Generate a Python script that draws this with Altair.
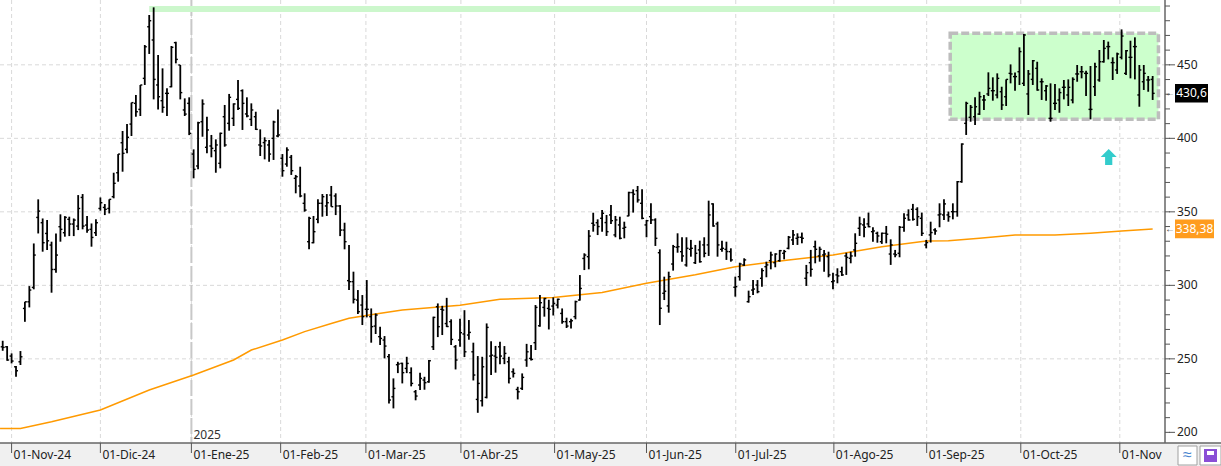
import altair as alt
import pandas as pd

# ---------------- data ----------------
first_bar = -2  # bar index of the first bar (two sessions before 01-Nov-24)

opens = [258.2, 258.2, 251.9, 244.6, 248.0, 284.3, 288.8, 298.6, 346.2, 342.6,
         335.3, 327.4, 310.8, 339.9, 335.8, 344.9, 341.7, 340.3, 359.8, 341.0,
         338.1, 335.8, 352.3, 353.0, 352.3, 360.3, 376.6, 397.0, 392.5, 409.7,
         423.8, 419.7, 440.8, 475.9, 466.9, 436.3, 425.6, 430.6, 435.1, 465.1,
         449.9, 419.3, 423.8, 389.3, 381.2, 411.3, 393.9, 394.8, 391.6, 383.0,
         414.7, 410.2, 413.6, 426.5, 432.4, 416.6, 412.9, 414.7, 395.5, 397.1,
         395.5, 400.0, 401.6, 386.4, 382.5, 387.1, 372.8, 367.6, 355.8, 329.7,
         329.0, 344.9, 355.8, 354.0, 361.4, 360.8, 354.0, 337.6, 303.2, 302.5,
         290.0, 286.6, 283.7, 278.7, 272.3, 265.1, 262.8, 251.5, 224.2, 246.0,
         246.9, 243.5, 240.6, 227.6, 232.2, 235.6, 234.4, 258.2, 285.5, 283.7,
         274.0, 275.3, 258.2, 262.8, 266.9, 266.2, 254.8, 222.4, 221.5, 223.8,
         251.9, 251.9, 258.2, 250.3, 248.0, 241.2, 229.2, 229.9, 249.2, 250.3,
         261.0, 272.5, 285.0, 284.3, 285.9, 286.6, 280.9, 275.3, 275.3, 278.7,
         290.0, 318.3, 319.5, 342.2, 342.6, 345.6, 342.7, 347.9, 334.3, 341.1,
         338.8, 347.2, 363.1, 364.4, 355.8, 341.1, 346.7, 344.5, 322.2, 294.6,
         286.0, 314.5, 325.9, 322.9, 313.9, 324.5, 315.4, 324.1, 327.5, 327.5,
         355.4, 341.8, 324.5, 324.5, 322.9, 298.7, 305.9, 313.9, 288.9, 296.8,
         300.2, 304.8, 312.7, 316.8, 315.4, 316.8, 321.8, 325.2, 330.9, 332.0,
         332.7, 304.8, 315.4, 326.3, 320.0, 320.7, 319.5, 302.5, 307.1, 309.3,
         320.0, 318.4, 324.1, 338.8, 341.1, 341.8, 336.5, 335.4, 329.7, 335.4,
         321.3, 321.3, 321.8, 339.5, 347.9, 351.7, 351.7, 345.6, 327.5, 334.3,
         337.7, 347.9, 347.9, 347.9, 350.1, 350.1, 370.5, 410.2, 414.3, 414.7,
         416.5, 426.1, 430.2, 432.4, 429.5, 431.7, 428.3, 444.2, 442.0, 445.3,
         437.4, 430.2, 440.1, 447.6, 438.5, 432.4, 413.6, 423.8, 426.1, 434.7,
         429.5, 426.1, 443.8, 445.3, 444.2, 419.7, 435.1, 439.7, 452.1, 462.4,
         451.5, 446.5, 455.1, 444.2, 455.1, 462.4, 429.5, 438.5, 439.7, 440.1]

highs = [262.3, 258.7, 253.7, 245.1, 255.3, 288.8, 299.5, 328.5, 358.5, 345.5,
         344.4, 329.7, 335.3, 348.3, 347.1, 346.7, 345.5, 361.4, 362.1, 347.1,
         342.1, 344.9, 359.8, 355.3, 358.5, 376.6, 389.3, 405.0, 409.7, 424.3,
         429.5, 436.3, 463.5, 483.9, 489.1, 456.7, 447.6, 434.0, 462.8, 465.7,
         449.9, 427.2, 427.9, 392.5, 411.3, 426.5, 414.7, 402.3, 399.3, 403.9,
         422.7, 430.2, 423.8, 439.7, 433.3, 427.9, 423.8, 418.1, 406.1, 400.7,
         398.9, 412.0, 419.7, 389.3, 393.9, 388.7, 375.1, 380.7, 362.6, 346.7,
         347.2, 358.5, 362.1, 362.1, 367.6, 362.6, 354.6, 342.6, 327.4, 309.3,
         296.8, 293.4, 303.6, 284.3, 280.9, 271.9, 265.5, 253.3, 236.7, 248.0,
         247.4, 251.4, 244.2, 228.8, 240.6, 237.8, 249.2, 278.7, 287.7, 286.1,
         291.5, 276.9, 259.4, 277.2, 283.1, 276.4, 261.0, 251.9, 251.4, 274.1,
         262.0, 258.8, 261.7, 258.7, 251.4, 243.5, 231.0, 240.1, 260.2, 259.4,
         286.6, 293.5, 291.5, 290.2, 291.8, 291.0, 284.3, 278.0, 277.2, 289.6,
         307.0, 321.8, 337.6, 349.4, 344.9, 351.3, 347.9, 354.7, 347.2, 346.7,
         343.3, 363.7, 365.3, 367.6, 365.3, 344.5, 355.8, 345.6, 324.5, 305.9,
         309.3, 327.5, 335.4, 332.7, 332.7, 330.9, 327.5, 330.4, 332.7, 357.6,
         355.8, 343.3, 330.4, 329.7, 325.2, 305.9, 315.4, 318.4, 296.4, 303.6,
         303.6, 311.6, 316.1, 322.9, 321.8, 324.1, 324.1, 333.6, 337.7, 335.4,
         335.9, 313.9, 324.1, 330.4, 326.3, 324.1, 322.9, 308.6, 311.6, 312.7,
         322.2, 322.9, 335.4, 346.7, 345.6, 349.5, 339.5, 336.5, 335.9, 340.4,
         331.3, 324.1, 340.4, 349.0, 351.7, 355.4, 353.1, 349.5, 330.9, 343.3,
         338.8, 355.8, 358.5, 350.2, 355.8, 371.0, 396.6, 424.9, 422.7, 427.9,
         431.7, 429.5, 444.9, 441.5, 444.2, 435.1, 440.1, 450.3, 444.7, 461.9,
         471.0, 446.5, 453.3, 452.1, 440.8, 436.3, 437.4, 437.0, 434.0, 439.7,
         440.1, 441.5, 449.9, 449.2, 446.0, 449.2, 451.5, 460.1, 466.9, 465.8,
         455.1, 458.3, 474.1, 460.1, 466.4, 468.7, 449.9, 449.9, 442.4, 442.4]

lows = [255.5, 248.7, 246.9, 237.8, 245.8, 275.2, 285.0, 297.3, 335.3, 322.9,
        324.0, 295.0, 308.6, 329.7, 333.1, 333.5, 333.5, 337.6, 338.1, 335.8,
        326.3, 333.5, 350.8, 347.8, 348.9, 359.2, 370.5, 377.3, 389.8, 401.6,
        414.7, 415.2, 436.3, 457.4, 426.5, 419.7, 417.4, 415.2, 434.7, 451.0,
        426.5, 415.2, 402.2, 372.8, 378.9, 401.1, 389.8, 387.1, 376.6, 379.6,
        394.3, 405.2, 408.4, 419.3, 405.7, 414.3, 408.4, 405.7, 388.0, 385.7,
        384.1, 385.3, 400.7, 373.9, 380.7, 375.1, 362.6, 359.9, 350.1, 324.5,
        328.6, 342.2, 346.7, 347.2, 353.5, 347.8, 333.5, 324.5, 296.8, 287.7,
        280.5, 273.0, 278.2, 261.0, 266.9, 259.4, 250.3, 219.7, 216.3, 240.3,
        233.3, 240.3, 231.3, 221.8, 228.8, 229.0, 233.8, 256.0, 264.8, 266.2,
        271.6, 259.4, 242.8, 258.2, 251.2, 263.0, 235.3, 213.3, 217.6, 223.1,
        239.0, 240.6, 246.4, 246.4, 233.3, 237.3, 222.4, 228.8, 244.6, 248.9,
        256.0, 271.9, 278.7, 270.0, 279.5, 284.3, 273.9, 271.0, 270.7, 276.9,
        289.6, 310.4, 310.9, 336.5, 334.2, 336.5, 333.6, 341.8, 332.7, 331.3,
        332.0, 347.0, 349.5, 356.3, 344.9, 332.7, 341.8, 326.8, 273.0, 290.0,
        281.4, 310.0, 322.2, 316.1, 312.7, 319.5, 314.5, 315.4, 319.1, 320.0,
        339.9, 319.5, 322.9, 317.3, 316.1, 292.3, 303.2, 313.2, 288.2, 293.4,
        294.6, 299.1, 305.5, 310.9, 312.3, 316.1, 317.7, 324.5, 327.5, 327.5,
        328.6, 299.6, 305.9, 315.0, 316.1, 309.3, 305.5, 297.3, 301.4, 306.4,
        307.1, 315.0, 319.5, 333.6, 332.7, 339.5, 329.7, 329.0, 328.2, 328.6,
        313.9, 319.1, 319.1, 336.5, 344.0, 344.0, 340.4, 333.6, 325.2, 329.1,
        334.5, 339.5, 344.5, 343.3, 344.9, 346.7, 369.8, 402.3, 411.3, 409.1,
        415.9, 419.3, 428.8, 425.6, 427.2, 419.3, 422.0, 437.4, 432.4, 436.3,
        435.6, 415.9, 436.3, 432.4, 426.1, 425.6, 411.3, 419.3, 417.4, 426.5,
        422.0, 423.8, 438.5, 440.8, 428.8, 412.9, 428.8, 438.5, 451.5, 453.7,
        439.7, 443.8, 453.7, 443.1, 440.8, 440.1, 421.5, 432.9, 431.7, 426.1]

closes = [257.8, 249.2, 248.5, 241.9, 251.4, 288.8, 296.8, 320.6, 350.5, 329.0,
          330.3, 310.8, 320.6, 338.1, 346.2, 341.7, 344.4, 352.3, 340.3, 337.6,
          332.6, 342.6, 356.2, 351.7, 358.5, 369.4, 389.3, 389.8, 400.7, 424.3,
          418.1, 436.3, 462.3, 480.0, 440.1, 428.3, 421.1, 430.6, 461.9, 453.7,
          431.1, 416.5, 403.4, 378.9, 410.6, 423.4, 405.7, 393.2, 395.5, 403.4,
          395.5, 427.9, 423.4, 420.4, 423.8, 415.2, 419.3, 406.1, 394.8, 398.4,
          389.3, 411.1, 402.3, 378.0, 392.1, 378.0, 373.9, 360.8, 351.2, 345.6,
          336.5, 355.8, 360.3, 356.2, 353.5, 354.0, 337.6, 329.7, 302.5, 290.5,
          282.1, 278.7, 283.7, 271.9, 279.8, 263.9, 258.7, 222.0, 229.9, 246.5,
          240.6, 246.9, 233.3, 224.7, 236.7, 233.8, 248.7, 278.2, 271.9, 283.2,
          272.0, 263.2, 249.2, 267.8, 254.8, 268.0, 239.0, 233.3, 244.6, 271.4,
          252.5, 251.0, 251.9, 253.7, 236.7, 240.1, 227.6, 237.4, 254.8, 249.6,
          285.0, 288.2, 291.0, 283.7, 287.7, 290.5, 275.3, 272.3, 275.9, 288.9,
          297.9, 320.6, 333.5, 341.0, 340.0, 349.0, 336.5, 344.0, 344.5, 332.0,
          339.5, 363.1, 362.0, 358.1, 345.6, 344.0, 344.5, 332.0, 284.4, 296.0,
          305.9, 326.3, 326.3, 320.0, 325.2, 325.2, 321.8, 316.1, 321.8, 347.9,
          340.4, 327.5, 325.2, 323.0, 317.3, 299.1, 314.5, 317.3, 292.3, 297.5,
          295.7, 310.0, 313.9, 320.7, 321.3, 323.6, 323.0, 332.7, 334.3, 332.7,
          332.0, 308.6, 310.9, 324.5, 324.5, 321.3, 307.1, 303.0, 306.4, 307.1,
          319.0, 320.0, 328.6, 341.8, 339.5, 339.9, 337.0, 333.6, 335.4, 334.8,
          327.5, 320.8, 339.5, 345.6, 344.5, 344.9, 346.7, 335.4, 329.1, 335.9,
          337.0, 348.5, 355.4, 346.7, 350.1, 370.5, 396.1, 423.8, 421.1, 421.5,
          428.3, 426.1, 434.0, 432.4, 440.8, 422.7, 440.1, 443.8, 442.0, 459.0,
          470.3, 443.8, 452.8, 432.9, 438.5, 435.6, 413.6, 423.8, 431.1, 434.7,
          434.7, 440.1, 443.8, 445.3, 444.2, 419.7, 448.7, 452.1, 461.2, 462.4,
          451.5, 457.4, 469.6, 459.6, 455.1, 462.4, 446.5, 444.2, 439.7, 430.6]

# orange moving-average line, read at a number of bar positions
ma_bar = [-2.6, 2, 9, 20, 31, 41, 50, 54, 61, 66, 72, 76, 82, 88, 101, 110, 122,
          133, 143, 154, 163, 175, 185, 196, 206, 211, 218, 226, 235, 243, 250, 257]
ma_value = [202.7, 202.7, 207.2, 215.2, 228.8, 239.0, 249.2, 256.0, 262.8, 268.5,
            274.1, 277.6, 280.5, 283.2, 286.5, 290.5, 291.8, 295.2, 301.4, 307.2,
            312.7, 317.2, 320.6, 326.3, 330.1, 330.3, 332.0, 334.2, 334.2, 335.4,
            336.9, 338.38]

# month ticks (bar position of the first session of each month)
month_bar = [0, 20, 40.5, 60.6, 79.8, 101.2, 122.3, 143.0, 163.1, 185.2, 206.1, 227.3, 249.6]
month_label = ["01-Nov-24", "01-Dic-24", "01-Ene-25", "01-Feb-25", "01-Mar-25",
               "01-Abr-25", "01-May-25", "01-Jun-25", "01-Jul-25", "01-Ago-25",
               "01-Sep-25", "01-Oct-25", "01-Nov"]
year_bar = 40.5
year_label = "2025"

grid_prices = [250, 300, 350, 400, 450]
axis_prices = [200, 250, 300, 350, 400, 450]
minor_prices = list(range(200, 491, 10))

# annotations
band_bar = [31.0, 258.7]
band_price = [490.0, 485.9]
box_bar = [211.4, 258.3]
box_price = [471.4, 412.9]
arrow_bar = 247.1
arrow_price = 387.3
last_price = 430.6
last_price_text = "430,6"
ma_last = 338.38
ma_last_text = "338,38"

# ---------------- build ----------------
W, H = 1165, 443
FONT = "Segoe UI, Noto Sans, sans-serif"
xs = alt.Scale(domain=[-2.608, 259.78], nice=False, zero=False)
ys = alt.Scale(domain=[192.76, 494.1], nice=False, zero=False)

n = len(opens)
bars = pd.DataFrame({
    "i": [first_bar + k for k in range(n)],
    "o": opens, "h": highs, "l": lows, "c": closes,
})
ma = pd.DataFrame({"i": ma_bar, "v": ma_value})
months = pd.DataFrame({"i": month_bar, "t": month_label})
grid = pd.DataFrame({"p": grid_prices})
axp = pd.DataFrame({"p": axis_prices})
minor = pd.DataFrame({"p": minor_prices})
one = pd.DataFrame({"k": [0]})

X = lambda f: alt.X(f, type="quantitative", scale=xs, axis=None)
Y = lambda f: alt.Y(f, type="quantitative", scale=ys, axis=None)

hgrid = alt.Chart(grid).mark_rule(color="#d9d9d9", strokeDash=[4, 3], strokeWidth=1).encode(
    y=Y("p"), x=alt.value(0), x2=alt.value(W))
vgrid = alt.Chart(months).mark_rule(color="#d9d9d9", strokeDash=[4, 3], strokeWidth=1).encode(
    x=X("i"), y=alt.value(0), y2=alt.value(H))
yearline = alt.Chart(pd.DataFrame({"i": [year_bar], "t": [year_label]})).mark_rule(
    color="#c8c8c8", strokeDash=[16, 3], strokeWidth=2).encode(
    x=X("i"), y=alt.value(0), y2=alt.value(H))
yeartext = alt.Chart(pd.DataFrame({"i": [year_bar], "t": [year_label]})).mark_text(
    align="left", baseline="middle", dx=2, font=FONT, fontSize=12, color="#333333").encode(
    x=X("i"), y=alt.value(435), text="t:N")

band = alt.Chart(pd.DataFrame({"a": [band_bar[0]], "b": [band_bar[1]],
                               "p": [band_price[0]], "q": [band_price[1]]})).mark_rect(
    color="#ccf7cc").encode(x=X("a"), x2="b", y=Y("p"), y2="q")
box = alt.Chart(pd.DataFrame({"a": [box_bar[0]], "b": [box_bar[1]],
                              "p": [box_price[0]], "q": [box_price[1]]})).mark_rect(
    fill="#ccffcc", stroke="#bdbdbd", strokeWidth=3.5, strokeDash=[8, 3]).encode(
    x=X("a"), x2="b", y=Y("p"), y2="q")

maline = alt.Chart(ma).mark_line(color="#ff9a00", strokeWidth=1.5).encode(
    x=X("i"), y=Y("v"))

hl = alt.Chart(bars).mark_rule(color="black", strokeWidth=1.8).encode(
    x=X("i"), y=Y("l"), y2="h")
otick = alt.Chart(bars).transform_calculate(a="datum.i - 0.45").mark_rule(
    color="black", strokeWidth=1.4).encode(x=X("a"), x2="i", y=Y("o"))
ctick = alt.Chart(bars).transform_calculate(b="datum.i + 0.45").mark_rule(
    color="black", strokeWidth=1.4).encode(x=X("i"), x2="b", y=Y("c"))

arrow = alt.Chart(pd.DataFrame({"i": [arrow_bar], "p": [arrow_price]})).mark_point(
    shape="M0,-1L1,0L0.45,0L0.45,1L-0.45,1L-0.45,0L-1,0Z", filled=True,
    color="#33cccc", opacity=1, size=256, strokeWidth=0).encode(x=X("i"), y=Y("p"))

# bottom strip and x axis
strip = alt.Chart(one).mark_rect(color="#f0f0f0").encode(
    x=alt.value(0), x2=alt.value(1221), y=alt.value(H), y2=alt.value(466))
xline = alt.Chart(one).mark_rule(color="#666666", strokeWidth=1.5).encode(
    x=alt.value(0), x2=alt.value(1221), y=alt.value(H))
xticks = alt.Chart(months).mark_rule(color="#555555", strokeWidth=1).encode(
    x=X("i"), y=alt.value(H), y2=alt.value(453))
xlabels = alt.Chart(months).mark_text(align="left", baseline="middle", dx=2,
                                      font=FONT, fontSize=12, color="#222222").encode(
    x=X("i"), y=alt.value(455), text="t:N")

# right y axis
yline = alt.Chart(one).mark_rule(color="#666666", strokeWidth=1.5).encode(
    x=alt.value(W), y=alt.value(0), y2=alt.value(H))
yminor = alt.Chart(minor).mark_rule(color="#555555", strokeWidth=1).encode(
    y=Y("p"), x=alt.value(W), x2=alt.value(W + 5))
ymajor = alt.Chart(axp).mark_rule(color="#555555", strokeWidth=1).encode(
    y=Y("p"), x=alt.value(W + 4), x2=alt.value(W + 10))
ylabels = alt.Chart(axp).mark_text(align="left", baseline="middle", font=FONT,
                                   fontSize=12, color="#222222").encode(
    y=Y("p"), x=alt.value(W + 12), text="p:Q")

lastbox = alt.Chart(pd.DataFrame({"p": [last_price], "t": [last_price_text]})).mark_point(
    shape="M-1,-0.56L1,-0.56L1,0.56L-1,0.56Z", filled=True, color="black", opacity=1,
    size=33 * 33, strokeWidth=0).encode(y=Y("p"), x=alt.value(1191.5))
lasttext = alt.Chart(pd.DataFrame({"p": [last_price], "t": [last_price_text]})).mark_text(
    align="center", baseline="middle", font=FONT, fontSize=12, color="white").encode(
    y=Y("p"), x=alt.value(1191.5), text="t:N")
mabox = alt.Chart(pd.DataFrame({"p": [ma_last], "t": [ma_last_text]})).mark_point(
    shape="M-1,-0.48L1,-0.48L1,0.48L-1,0.48Z", filled=True, color="#ff9c1e", opacity=1,
    size=39 * 39, strokeWidth=0).encode(y=Y("p"), x=alt.value(1194.5))
matext = alt.Chart(pd.DataFrame({"p": [ma_last], "t": [ma_last_text]})).mark_text(
    align="center", baseline="middle", font=FONT, fontSize=12, color="white").encode(
    y=Y("p"), x=alt.value(1194.5), text="t:N")
arrows = alt.Chart(pd.DataFrame({"p": [last_price, ma_last]})).mark_text(
    text="←", align="center", baseline="middle", fontSize=10, color="#444444").encode(
    y=Y("p"), x=alt.value(1170))

# bottom-right buttons
btn1 = alt.Chart(one).mark_rect(fill="white", stroke="#a0a0a0", strokeWidth=1).encode(
    x=alt.value(1178), x2=alt.value(1197), y=alt.value(446), y2=alt.value(465))
btn1icon = alt.Chart(one).mark_text(text="≈", fontSize=16, color="#4a86d0",
                                    align="center", baseline="middle").encode(
    x=alt.value(1187.5), y=alt.value(455))
btn2 = alt.Chart(one).mark_rect(fill="white", stroke="#a0a0a0", strokeWidth=1).encode(
    x=alt.value(1200), x2=alt.value(1221), y=alt.value(446), y2=alt.value(465))
btn2icon = alt.Chart(one).mark_rect(fill="#8a4fd6").encode(
    x=alt.value(1204), x2=alt.value(1217), y=alt.value(449), y2=alt.value(462))
btn2inner = alt.Chart(one).mark_rect(fill="white").encode(
    x=alt.value(1207), x2=alt.value(1214), y=alt.value(451), y2=alt.value(455))

chart = alt.layer(
    hgrid, vgrid, yearline, band, box, maline, hl, otick, ctick, arrow, yeartext,
    strip, xline, xticks, xlabels, yline, yminor, ymajor, ylabels,
    arrows, lastbox, lasttext, mabox, matext,
    btn1, btn1icon, btn2, btn2icon, btn2inner,
).properties(
    width=W, height=H,
    autosize=alt.AutoSizeParams(type="none"),
    padding={"left": 0, "top": 0, "right": 56, "bottom": 23},
    background="white",
).configure_view(strokeWidth=0)

chart.save("out.html", embed_options={"renderer": "svg", "actions": False})
